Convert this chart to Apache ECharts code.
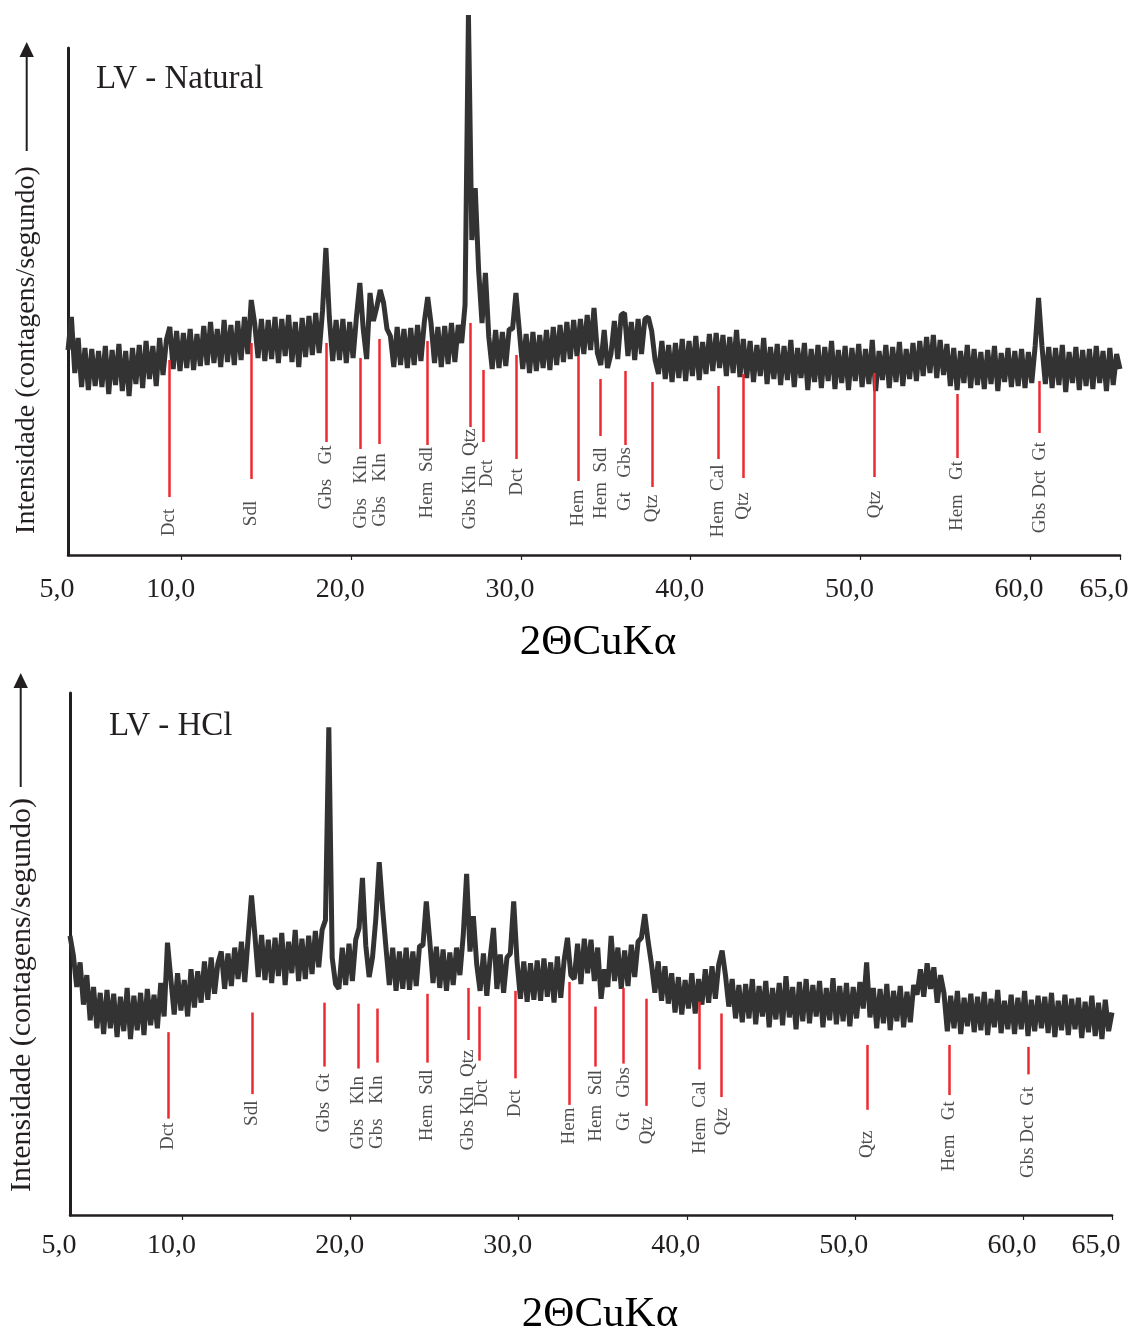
<!DOCTYPE html>
<html>
<head>
<meta charset="utf-8">
<script src="https://cdn.jsdelivr.net/npm/echarts@6/dist/echarts.min.js"></script>
<style>
html,body{margin:0;padding:0;background:#fff;}
#chart{width:1134px;height:1337px;}
</style>
</head>
<body>
<div id="chart"></div>
<script>
// ---- scan sampling (2θ, degrees) ----
const thetaStart = 3.3;
const thetaStep = 0.2;

// ---- LV - Natural: intensity (arbitrary counts) at each scan step ----
const naturalCounts = [
  205,238,182,217,168,207,165,206,169,204,
  168,209,161,205,170,211,164,204,159,207,
  171,210,167,214,176,209,169,217,180,215,
  228,186,224,184,222,187,226,185,221,189,
  229,190,233,192,226,188,235,193,230,190,
  234,195,238,201,255,232,197,236,194,235,
  196,238,192,236,199,240,193,233,188,237,
  198,239,200,242,202,244,307,238,194,235,
  195,236,192,233,197,238,272,226,196,262,
  234,248,265,252,226,219,188,228,190,226,
  187,227,190,230,194,233,258,231,192,228,
  188,229,191,232,193,230,212,250,540,315,
  367,285,232,282,218,186,225,187,223,189,
  226,226,262,224,186,221,182,223,184,220,
  187,225,185,228,190,230,193,233,196,235,
  199,236,201,240,205,247,202,190,225,187,
  201,234,196,240,242,199,233,195,236,201,
  236,238,224,195,181,214,176,210,173,212,
  177,216,174,214,179,219,175,213,181,221,
  184,222,187,220,179,218,182,225,178,216,
  177,214,173,210,179,217,171,208,176,211,
  170,209,175,215,168,207,177,212,165,206,
  173,210,167,208,174,214,166,205,172,209,
  165,207,174,211,168,206,171,215,164,204,
  175,210,167,208,173,213,169,206,176,212,
  174,214,179,218,182,220,177,215,180,211,
  169,207,165,204,172,210,167,206,170,203,
  166,205,171,209,164,202,173,207,168,204,
  169,206,167,203,172,209,257,209,171,208,
  167,207,170,210,163,203,172,208,165,205,
  169,206,166,209,172,204,164,207,170,201,186
];

// ---- LV - HCl: intensity (arbitrary counts) at each scan step ----
const hclCounts = [
  284,264,232,257,214,244,198,232,190,226,
  184,229,190,225,181,222,187,231,179,223,
  188,226,183,230,193,224,190,236,202,277,
  240,204,246,208,239,202,250,211,248,216,
  258,219,262,225,256,268,230,266,233,272,
  240,278,237,282,325,285,242,285,239,280,
  236,282,243,287,234,278,246,290,238,281,
  240,284,245,289,252,290,300,496,262,235,
  230,272,234,276,238,280,292,343,274,242,
  262,302,359,312,272,234,272,228,268,230,
  272,229,268,233,274,274,319,280,236,273,
  231,270,228,267,234,272,244,285,347,268,
  304,255,228,266,223,262,292,230,265,226,
  262,266,319,258,220,258,217,256,219,259,
  218,261,222,257,216,263,221,259,282,244,
  240,276,235,281,246,280,238,272,220,250,
  232,284,238,272,230,269,233,275,242,278,
  282,306,278,255,226,258,218,253,215,246,
  206,242,204,239,210,246,205,240,214,250,
  216,253,220,255,269,244,212,240,200,234,
  196,235,200,240,194,233,202,238,191,231,
  199,236,193,243,201,232,189,237,197,240,
  195,234,202,238,191,231,198,241,194,233,
  197,236,192,232,200,237,210,257,201,231,
  190,230,195,235,188,228,197,233,191,227,
  196,234,224,250,222,256,230,252,216,244,
  226,187,223,190,228,184,221,192,225,186,
  222,188,227,183,220,191,229,185,218,189,
  224,184,221,189,228,182,219,187,223,190,
  222,185,226,181,218,188,224,183,220,189,
  221,180,217,186,223,182,216,179,219,187,206
];

// ---- axis ticks / labels ----
const tickValues = [10, 20, 30, 40, 50, 60, 65.3];
const tickLabelValues = [3.3, 10, 20, 30, 40, 50, 60, 65];
const tickLabelText = ['5,0', '10,0', '20,0', '30,0', '40,0', '50,0', '60,0', '65,0'];

// ---- phase identifications ----
const phaseNames = ['Dct', 'Sdl', 'Gbs   Gt', 'Gbs   Kln', 'Gbs   Kln', 'Hem  Sdl', 'Gbs Kln  Qtz', 'Dct', 'Dct',
  'Hem', 'Hem  Sdl', 'Gt   Gbs', 'Qtz', 'Hem  Cal', 'Qtz', 'Qtz', 'Hem   Gt', 'Gbs Dct  Gt'];
const hclPhaseNames = ['Dct', 'Sdl', 'Gbs  Gt', 'Gbs   Kln', 'Gbs   Kln', 'Hem  Sdl', 'Gbs Kln  Qtz', 'Dct', 'Dct',
  'Hem', 'Hem  Sdl', 'Gt   Gbs', 'Qtz', 'Hem  Cal', 'Qtz', 'Qtz', 'Hem   Gt', 'Gbs Dct  Gt'];

const natMarkTheta = [9.25, 14.11, 18.53, 20.54, 21.67, 24.46, 26.98, 27.8, 29.74, 33.35, 34.69, 36.13, 37.72, 41.6, 43.1, 50.84, 55.68, 60.57];
const natMarkTop =   [195, 212, 212, 197, 216, 214, 232, 185, 200, 199, 176, 184, 173, 169, 181, 182, 161, 174];
const natMarkBottom = [58, 76, 113, 106, 111, 110, 128, 113, 96, 74, 119, 110, 68, 96, 77, 78, 97, 122];
const natLabelTheta = [9.25, 14.11, 18.53, 20.54, 21.67, 24.46, 26.98, 27.98, 29.74, 33.35, 34.69, 36.13, 37.72, 41.6, 43.1, 50.84, 55.68, 60.57];
const natLabelMid = [32.5, 41.5, 77.5, 63, 65, 72.5, 76, 81.5, 73, 47, 72, 76, 46.5, 54, 49, 50.5, 59, 67.5];

const hclMarkTheta = [9.12, 14.12, 18.41, 20.43, 21.56, 24.57, 27.0, 27.68, 29.8, 33.02, 34.57, 36.24, 37.61, 40.76, 42.07, 50.71, 55.59, 60.29];
const hclMarkTop =   [186, 206, 216, 215, 210, 225, 231, 212, 228, 237, 212, 231, 220, 217, 205, 173, 173, 171];
const hclMarkBottom = [98, 123, 151, 149, 155, 155, 178, 157, 139, 112, 151, 154, 111, 148, 120, 107, 122, 143];
const hclLabelTheta = [9.12, 14.12, 18.41, 20.43, 21.56, 24.57, 27.0, 27.83, 29.8, 33.02, 34.57, 36.24, 37.61, 40.76, 42.07, 50.71, 55.59, 60.29];
const hclLabelMid = [80, 103.5, 114, 104, 104.5, 111.5, 117, 124, 113.5, 90.5, 111, 118, 86, 99, 95, 72, 80, 84];

// ---- styles ----
const INK = '#231f20';
const SERIF = '"Liberation Serif","Times New Roman",serif';
const RED = '#ec2a30';

function toPairs(counts) {
  return counts.map((v, i) => [+(thetaStart + i * thetaStep).toFixed(1), v]);
}

function xAxisDef(g, labelMargin, nameGap, namePad) {
  return {
    type: 'value', gridIndex: g, min: 3.3, max: 65.3,
    axisLine: { show: true, onZero: false, lineStyle: { color: INK, width: 2.5 } },
    axisTick: { show: true, customValues: tickValues, length: 5, lineStyle: { color: INK, width: 1.2 } },
    axisLabel: {
      show: true, customValues: tickLabelValues,
      formatter: function (v) { const k = tickLabelValues.indexOf(v); return k >= 0 ? tickLabelText[k] : ''; },
      fontFamily: SERIF, fontSize: 28, color: INK, margin: labelMargin, padding: [0, 22, 0, 0]
    },
    splitLine: { show: false },
    name: '2ΘCuKα', nameLocation: 'middle', nameGap: nameGap,
    nameTextStyle: { fontFamily: SERIF, fontSize: 43, color: '#000', padding: namePad }
  };
}
function yAxisDef(g, max) {
  return {
    type: 'value', gridIndex: g, min: 0, max: max,
    axisLine: { show: true, lineStyle: { color: INK, width: 3 } },
    axisTick: { show: false }, axisLabel: { show: false }, splitLine: { show: false }
  };
}
function markerSeries(g, names, labTheta, labMid, mTheta, mTop, mBot) {
  return {
    type: 'scatter', xAxisIndex: g, yAxisIndex: g, silent: true, z: 4,
    symbolSize: 1, itemStyle: { color: 'rgba(0,0,0,0)' },
    emphasis: { disabled: true },
    data: names.map((n, i) => ({ name: n, value: [labTheta[i], labMid[i]] })),
    label: {
      show: true, position: 'inside', rotate: 90, formatter: '{b}',
      fontFamily: SERIF, fontSize: 19, color: INK, align: 'center', verticalAlign: 'middle'
    },
    markLine: {
      silent: true, symbol: ['none', 'none'], label: { show: false },
      lineStyle: { color: RED, width: 2.5, type: 'solid' },
      emphasis: { disabled: true },
      data: mTheta.map((t, i) => [{ coord: [t, mTop[i]] }, { coord: [t, mBot[i]] }])
    }
  };
}
function traceSeries(g, counts) {
  return {
    type: 'line', xAxisIndex: g, yAxisIndex: g, data: toPairs(counts),
    showSymbol: false, symbol: 'none', clip: false, silent: true, z: 3,
    lineStyle: { color: '#333333', width: 5, join: 'bevel' }
  };
}

const chart = echarts.init(document.getElementById('chart'), null, { renderer: 'canvas' });
chart.setOption({
  animation: false,
  backgroundColor: '#ffffff',
  grid: [
    { left: 68, top: 48, width: 1052, height: 507 },
    { left: 70, top: 693, width: 1042, height: 531 }
  ],
  title: [
    { text: 'LV - Natural', left: 91, top: 58, padding: 5, textStyle: { fontFamily: SERIF, fontSize: 33, fontWeight: 'normal', color: INK } },
    { text: 'LV - HCl', left: 104, top: 705, padding: 5, textStyle: { fontFamily: SERIF, fontSize: 33, fontWeight: 'normal', color: INK } }
  ],
  xAxis: [xAxisDef(0, 21, 66, [0, 0, 0, 8]), xAxisDef(1, 17, 78, [0, 0, 0, 18])],
  yAxis: [yAxisDef(0, 507), yAxisDef(1, 531)],
  series: [
    traceSeries(0, naturalCounts),
    traceSeries(1, hclCounts),
    markerSeries(0, phaseNames, natLabelTheta, natLabelMid, natMarkTheta, natMarkTop, natMarkBottom),
    markerSeries(1, hclPhaseNames, hclLabelTheta, hclLabelMid, hclMarkTheta, hclMarkTop, hclMarkBottom)
  ],
  graphic: [
    { type: 'text', x: 27, y: 350, rotation: Math.PI / 2,
      style: { text: 'Intensidade (contagens/segundo)', fontFamily: SERIF, fontSize: 28, fill: INK, align: 'center', verticalAlign: 'middle' } },
    { type: 'line', shape: { x1: 26.7, y1: 151, x2: 26.7, y2: 55 }, style: { stroke: INK, lineWidth: 2 } },
    { type: 'polygon', shape: { points: [[26.7, 42], [19.5, 57], [33.9, 57]] }, style: { fill: INK } },
    { type: 'text', x: 22, y: 995, rotation: Math.PI / 2,
      style: { text: 'Intensidade (contagens/segundo)', fontFamily: SERIF, fontSize: 30, fill: INK, align: 'center', verticalAlign: 'middle' } },
    { type: 'line', shape: { x1: 20.7, y1: 787, x2: 20.7, y2: 686 }, style: { stroke: INK, lineWidth: 2 } },
    { type: 'polygon', shape: { points: [[20.7, 673], [13.5, 688], [27.9, 688]] }, style: { fill: INK } }
  ]
});
</script>
</body>
</html>
